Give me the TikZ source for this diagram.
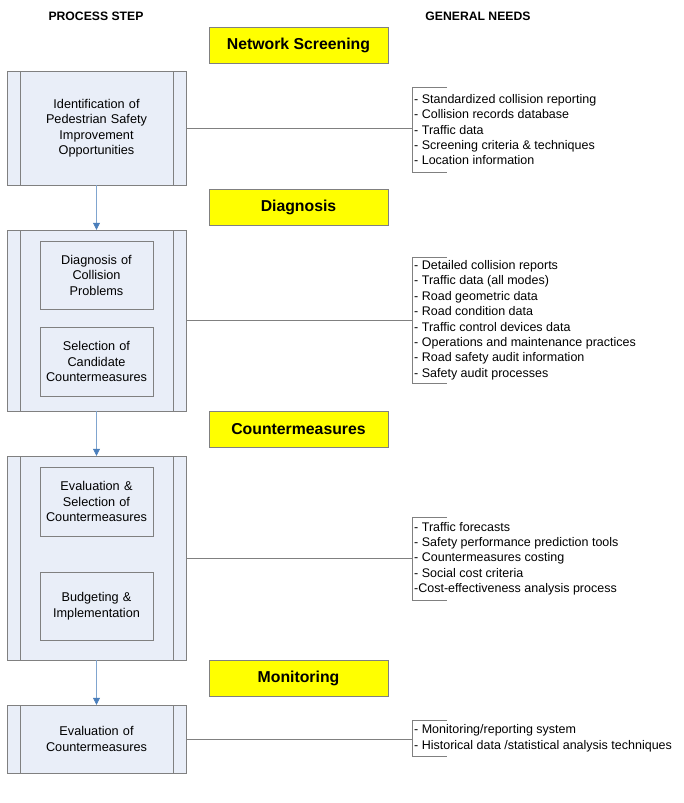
\documentclass[tikz,border=0pt]{standalone}
\usepackage{fontspec}
\setmainfont{Liberation Sans}
\usetikzlibrary{arrows.meta}
\definecolor{boxfill}{HTML}{E9EEF8}
\definecolor{boxline}{HTML}{808080}
\definecolor{arrowblue}{HTML}{4A7EBB}
\definecolor{hiyellow}{HTML}{FFFF00}
\begin{document}
\begin{tikzpicture}[x=1pt,y=1pt,
  txt/.style={font=\fontsize{12.7}{15.5}\selectfont},
  proc/.style={draw=boxline, fill=boxfill, minimum width=179pt, inner sep=0pt,
    text width=150pt, align=center, txt,
    path picture={
      \draw[boxline] ([xshift=13pt]path picture bounding box.north west) -- ([xshift=13pt]path picture bounding box.south west);
      \draw[boxline] ([xshift=-13pt]path picture bounding box.north east) -- ([xshift=-13pt]path picture bounding box.south east);
    }},
  sub/.style={draw=boxline, fill=boxfill, minimum width=113pt, inner sep=0pt,
    text width=112pt, align=center, txt},
  phase/.style={draw=boxline, fill=hiyellow, minimum width=179pt, minimum height=36pt,
    inner sep=0pt, font=\fontsize{15.8}{18}\selectfont\bfseries},
  head/.style={font=\fontsize{12.2}{14}\selectfont\bfseries},
  needs/.style={anchor=north west, inner xsep=2pt, inner ysep=0pt, align=left,
    font=\fontsize{12.5}{15.4}\selectfont},
  flow/.style={draw=arrowblue!70, line width=0.6pt, -{Triangle[width=7pt,length=7pt,color=arrowblue]}},
  link/.style={draw=boxline, line width=0.6pt},
  bracket/.style={draw=boxline, line width=0.6pt}
]
\useasboundingbox (0,0) rectangle (684,-803);

% headers
\node[head] (h1) at (96,-16) {PROCESS STEP};
\node[head] (h2) at (478,-16) {GENERAL NEEDS};

% phases
\node[phase] (ph1) at (298.5,-45) {Network Screening};
\node[phase] (ph2) at (298.5,-207.5) {Diagnosis};
\node[phase] (ph3) at (298.5,-429.5) {Countermeasures};
\node[phase] (ph4) at (298.5,-678.5) {Monitoring};

% process boxes
\node[proc, minimum height=114pt] (p1) at (96.5,-128) {Identification of\\Pedestrian Safety\\Improvement\\Opportunities};
\node[proc, minimum height=181pt] (p2) at (96.5,-320.5) {};
\node[sub, minimum height=68pt] (s21) at (96.5,-275) {Diagnosis of\\Collision\\Problems};
\node[sub, minimum height=69pt] (s22) at (96.5,-361.5) {Selection of\\Candidate\\Countermeasures};
\node[proc, minimum height=204pt] (p3) at (96.5,-558) {};
\node[sub, minimum height=69pt] (s31) at (96.5,-501.5) {Evaluation \&\\Selection of\\Countermeasures};
\node[sub, minimum height=68pt] (s32) at (96.5,-606) {Budgeting \&\\Implementation};
\node[proc, minimum height=68pt] (p4) at (96.5,-739) {Evaluation of\\Countermeasures};

% flow arrows
\draw[flow] (p1.south) -- (p2.north);
\draw[flow] (p2.south) -- (p3.north);
\draw[flow] (p3.south) -- (p4.north);

% needs lists
\node[needs, minimum height=85pt] (n1) at (412,-87) {- Standardized collision reporting\\- Collision records database\\- Traffic data\\- Screening criteria \& techniques\\- Location information};
\node[needs, minimum height=126pt] (n2) at (412,-257) {- Detailed collision reports\\- Traffic data (all modes)\\- Road geometric data\\- Road condition data\\- Traffic control devices data\\- Operations and maintenance practices\\- Road safety audit information\\- Safety audit processes};
\node[needs, minimum height=83pt] (n3) at (412,-517) {- Traffic forecasts\\- Safety performance prediction tools\\- Countermeasures costing\\- Social cost criteria\\-Cost-effectiveness analysis process};
\node[needs, minimum height=36pt] (n4) at (412,-720) {- Monitoring/reporting system\\- Historical data /statistical analysis techniques};

\foreach \n in {n1,n2,n3,n4}{
  \draw[bracket] ([xshift=35pt]\n.north west) -- (\n.north west) -- (\n.south west) -- ([xshift=35pt]\n.south west);
}

% links
\draw[link] (p1.east) -- (p1.east -| n1.west);
\draw[link] (p2.east) -- (p2.east -| n2.west);
\draw[link] (p3.east) -- (p3.east -| n3.west);
\draw[link] (p4.east) -- (p4.east -| n4.west);
\end{tikzpicture}
\end{document}
